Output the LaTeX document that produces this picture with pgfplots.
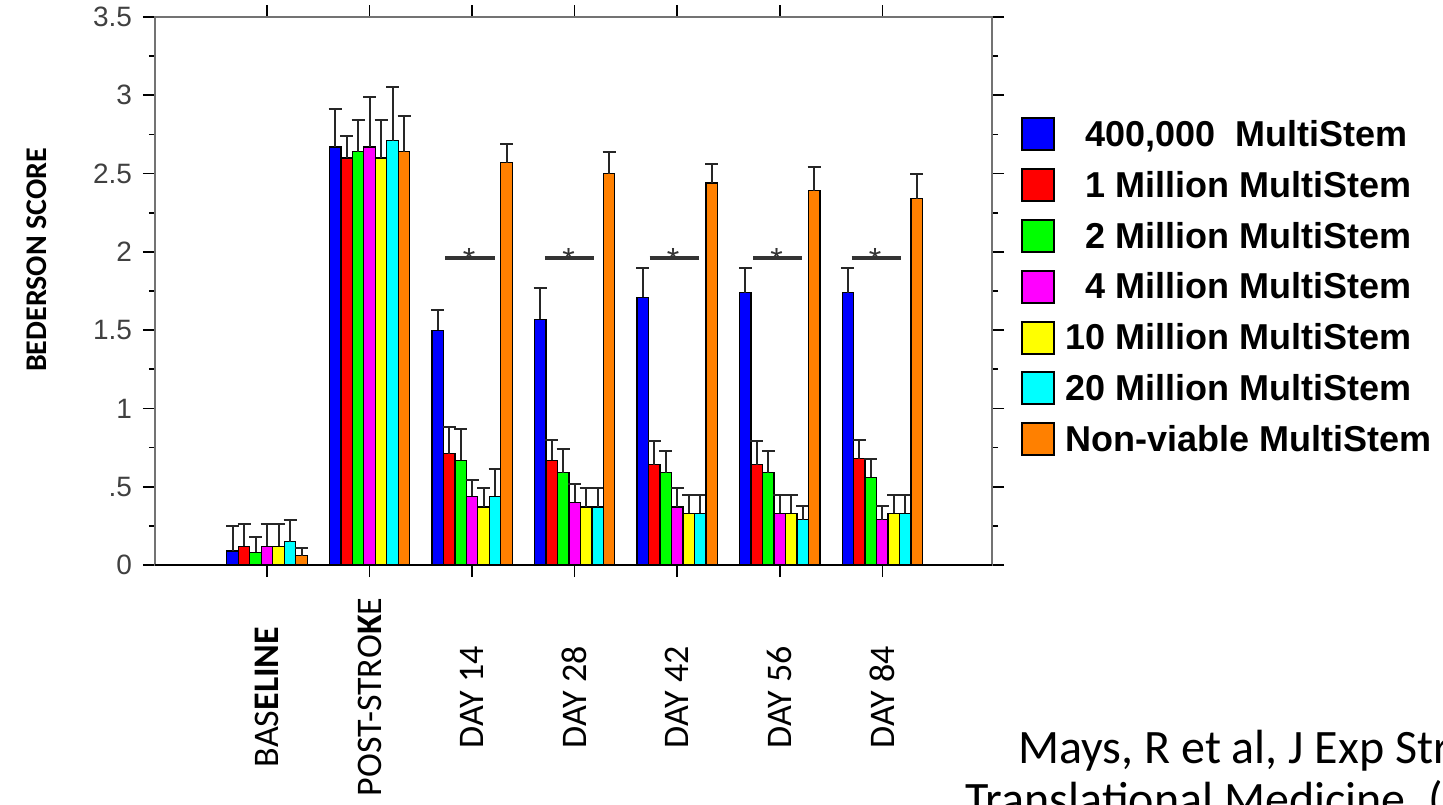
\documentclass[border=0pt]{standalone}
\usepackage{fontspec}
\setmainfont{Liberation Sans}
\newfontfamily\calibri{Carlito}
\usepackage{pgfplots}
\pgfplotsset{compat=1.18}
\definecolor{cBlue}{RGB}{0,0,255}
\definecolor{cRed}{RGB}{255,0,0}
\definecolor{cGreen}{RGB}{0,255,0}
\definecolor{cMag}{RGB}{255,0,255}
\definecolor{cYel}{RGB}{255,255,0}
\definecolor{cCyan}{RGB}{0,255,255}
\definecolor{cOrange}{RGB}{255,128,0}
\pgfplotsset{
  eb/.style={fill=#1, draw=black, line width=0.6pt,
    error bars/.cd, y dir=plus, y explicit,
    error bar style={line width=1pt, black!85},
    error mark options={rotate=90, mark size=3.25pt, line width=1pt, black!85}},
  sig/.style={sharp plot, no marks, black!80, line width=2pt, forget plot},
}
\begin{document}
\begin{tikzpicture}[x=1pt,y=1pt]
\clip (0,0) rectangle (721.5,402);
\begin{axis}[
  at={(77.5pt,119.5pt)}, anchor=south west,
  scale only axis, width=418.5pt, height=274pt,
  xmin=-1.093, xmax=7.07, ymin=0, ymax=3.5,
  ybar=0pt, bar width=0.112,
  axis line style={black!55, line width=0.8pt},
  tick style={black, line width=0.8pt},
  tick align=outside,
  major tick length=6pt, minor tick length=3pt,
  xtick={0,...,6},
  xticklabels={BAS\textbf{ELINE}, POST-STRO\textbf{K}E, DAY 14, DAY 28, DAY 42, DAY 56, DAY 84},
  xticklabel style={font=\calibri\fontsize{18}{18}\selectfont, yshift=-60pt, rotate=90, anchor=center},
  ytick={0,0.5,1,1.5,2,2.5,3,3.5},
  yticklabels={0,.5,1,1.5,2,2.5,3,3.5},
  minor ytick={0.25,0.75,1.25,1.75,2.25,2.75,3.25},
  yticklabel style={font=\fontsize{14}{14}\selectfont, text=black!75, xshift=-2pt},
  ylabel={BEDERSON SCORE},
  every axis y label/.style={at={(axis description cs:-0.141,0.557)}, rotate=90, anchor=center,
    font=\calibri\bfseries\fontsize{15}{15}\selectfont},
  legend style={at={(axis description cs:1.0346,0.8175)}, anchor=north west, draw=none, fill=none,
    inner sep=0pt, font=\bfseries\fontsize{18}{18}\selectfont, row sep=6.9pt,
    nodes={inner sep=0pt, text height=13pt, text depth=4pt},
    /tikz/every odd column/.append style={column sep=5pt}},
  legend cell align=left,
  legend image code/.code={\draw[#1, draw=black, line width=1pt] (0pt,-6.5pt) rectangle (16pt,9.5pt);},
]
\addplot[eb=cBlue] coordinates {(0,0.09) +- (0,0.16) (1,2.67) +- (0,0.24) (2,1.50) +- (0,0.13) (3,1.57) +- (0,0.20) (4,1.71) +- (0,0.19) (5,1.74) +- (0,0.16) (6,1.74) +- (0,0.16)};
\addplot[eb=cRed] coordinates {(0,0.12) +- (0,0.14) (1,2.60) +- (0,0.14) (2,0.71) +- (0,0.17) (3,0.67) +- (0,0.13) (4,0.64) +- (0,0.15) (5,0.64) +- (0,0.15) (6,0.68) +- (0,0.12)};
\addplot[eb=cGreen] coordinates {(0,0.08) +- (0,0.10) (1,2.64) +- (0,0.20) (2,0.67) +- (0,0.20) (3,0.59) +- (0,0.15) (4,0.59) +- (0,0.14) (5,0.59) +- (0,0.14) (6,0.56) +- (0,0.12)};
\addplot[eb=cMag] coordinates {(0,0.12) +- (0,0.14) (1,2.67) +- (0,0.32) (2,0.44) +- (0,0.10) (3,0.40) +- (0,0.12) (4,0.37) +- (0,0.12) (5,0.33) +- (0,0.12) (6,0.29) +- (0,0.09)};
\addplot[eb=cYel] coordinates {(0,0.12) +- (0,0.14) (1,2.60) +- (0,0.24) (2,0.37) +- (0,0.12) (3,0.37) +- (0,0.12) (4,0.33) +- (0,0.12) (5,0.33) +- (0,0.12) (6,0.33) +- (0,0.12)};
\addplot[eb=cCyan] coordinates {(0,0.15) +- (0,0.14) (1,2.71) +- (0,0.34) (2,0.44) +- (0,0.17) (3,0.37) +- (0,0.12) (4,0.33) +- (0,0.12) (5,0.29) +- (0,0.09) (6,0.33) +- (0,0.12)};
\addplot[eb=cOrange] coordinates {(0,0.06) +- (0,0.05) (1,2.64) +- (0,0.23) (2,2.57) +- (0,0.12) (3,2.50) +- (0,0.14) (4,2.44) +- (0,0.12) (5,2.39) +- (0,0.15) (6,2.34) +- (0,0.16)};
\legend{{\hphantom{0}400,000~ MultiStem}, \hphantom{0}1 Million MultiStem, \hphantom{0}2 Million MultiStem, \hphantom{0}4 Million MultiStem, 10 Million MultiStem, 20 Million MultiStem, Non-viable MultiStem}
% significance bars
\addplot[sig, bar shift=0pt] coordinates {(1.74,1.96) (2.22,1.96)};
\addplot[sig, bar shift=0pt] coordinates {(2.71,1.96) (3.19,1.96)};
\addplot[sig, bar shift=0pt] coordinates {(3.73,1.96) (4.21,1.96)};
\addplot[sig, bar shift=0pt] coordinates {(4.74,1.96) (5.22,1.96)};
\addplot[sig, bar shift=0pt] coordinates {(5.70,1.96) (6.18,1.96)};
\node[font=\fontsize{16}{16}\selectfont, inner sep=0pt, anchor=base, text=black!80] at (axis cs:1.97,1.88) {*};
\node[font=\fontsize{16}{16}\selectfont, inner sep=0pt, anchor=base, text=black!80] at (axis cs:2.94,1.88) {*};
\node[font=\fontsize{16}{16}\selectfont, inner sep=0pt, anchor=base, text=black!80] at (axis cs:3.96,1.88) {*};
\node[font=\fontsize{16}{16}\selectfont, inner sep=0pt, anchor=base, text=black!80] at (axis cs:4.97,1.88) {*};
\node[font=\fontsize{16}{16}\selectfont, inner sep=0pt, anchor=base, text=black!80] at (axis cs:5.93,1.88) {*};
\draw[black, line width=1pt] (axis description cs:0,0) -- (axis description cs:1,0);
\end{axis}
\node[font=\calibri\fontsize{24}{24}\selectfont, anchor=base west, inner sep=0pt] at (509,20.5) {Mays, R et al, J Exp Stroke \&};
\node[font=\calibri\fontsize{24}{24}\selectfont, anchor=base west, inner sep=0pt] at (482.5,-5.5) {Translational Medicine, (2010)};
\end{tikzpicture}
\end{document}
